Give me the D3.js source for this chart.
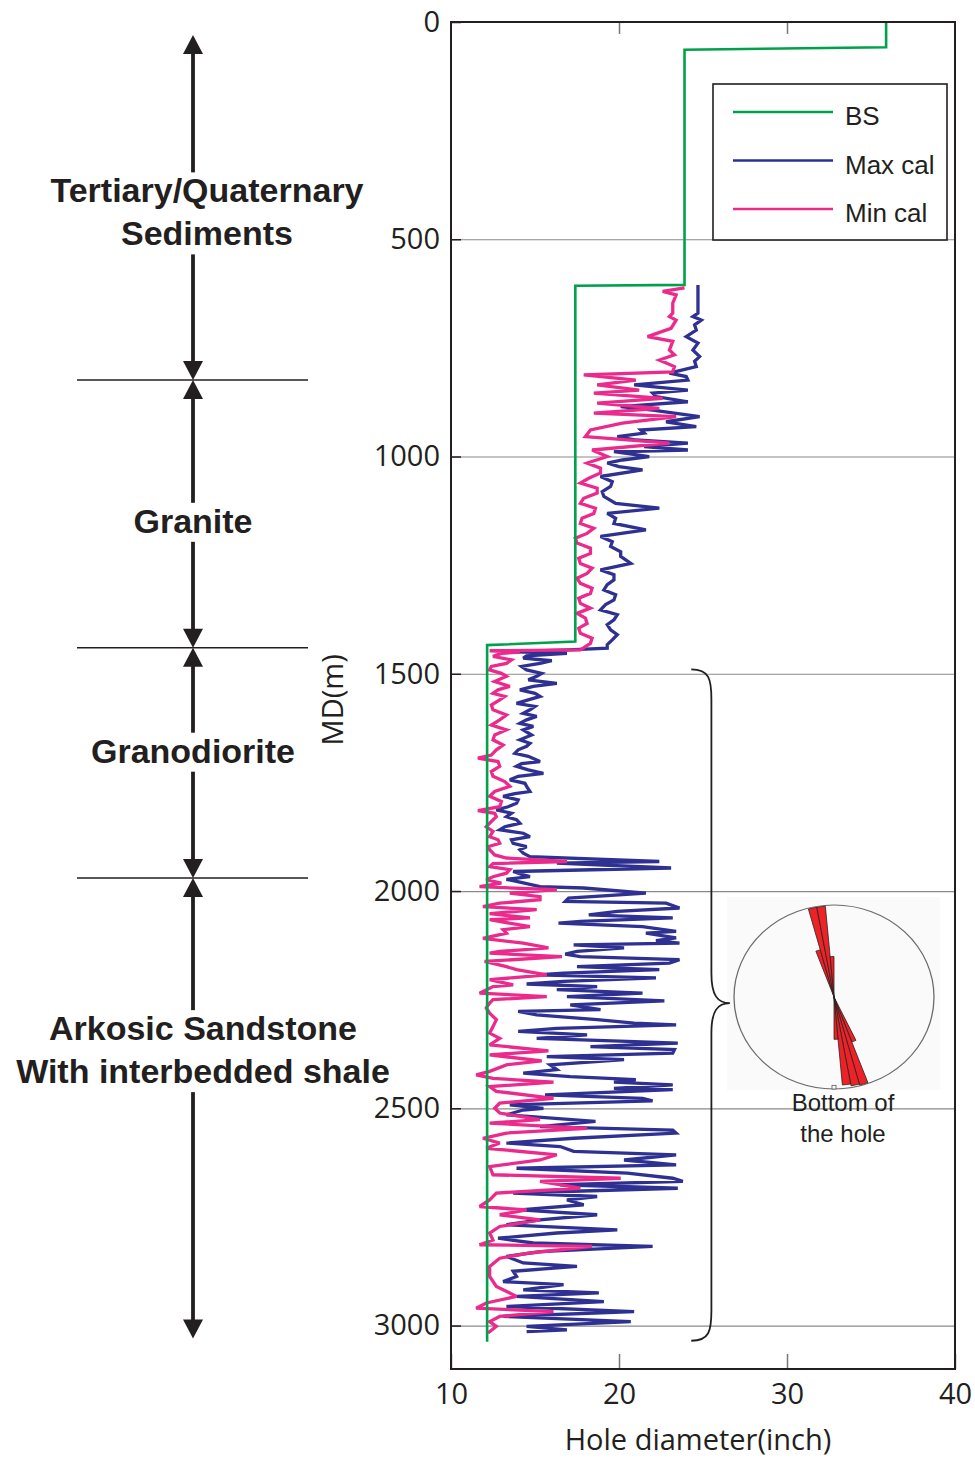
<!DOCTYPE html>
<html>
<head>
<meta charset="utf-8">
<script src="https://cdn.jsdelivr.net/npm/d3@7"></script>
<style>
  body { margin: 0; background: #fff; }
  svg { display: block; }
</style>
</head>
<body>
<script>
// ---- data ----

// bit size (BS), depth in m / diameter in inch
const bsDepth = [0, 58, 64, 605, 607, 1426, 1434, 3037];
const bsInch  = [35.9, 35.9, 23.9, 23.9, 17.4, 17.4, 12.15, 12.15];

// max caliper [depth m, inch], split by interval
const maxCalUpper = [[605,24.7],[670,24.7],[678,24.4],[686,24.9],[697,24.5],[709,24.6],[724,24.0],[739,24.7],[755,24.4],[770,24.8],[781,24.5],[793,24.6],[808,23.0],[816,24.0],[824,24.1],[835,20.9],[847,24.1],[854,22.0],[862,22.2],[874,24.1],[885,20.1],[893,22.0],[908,24.8],[920,22.8],[931,24.6],[939,21.3],[946,21.5],[954,19.9],[962,21.0],[969,24.1],[977,21.5],[985,24.1],[989,19.7],[1000,21.8],[1008,20.2],[1015,19.3],[1023,20.0],[1031,21.4],[1046,18.9],[1058,19.6],[1069,19.5],[1081,19.0],[1092,19.1],[1108,19.8],[1119,22.4],[1131,19.3],[1142,19.8],[1154,19.7],[1169,21.6],[1184,18.9],[1196,19.6],[1207,19.5],[1219,20.1],[1230,20.1],[1246,20.7],[1261,18.9],[1272,19.7],[1284,19.7],[1295,19.3],[1307,19.1],[1318,19.8],[1330,19.7],[1341,19.2],[1353,18.9],[1364,19.9],[1376,19.7],[1387,19.3],[1399,19.5],[1410,19.9],[1422,19.6],[1433,19.3],[1441,19.3]];
const maxCalMiddle = [[1445,17.0],[1449,13.3],[1453,16.9],[1459,14.5],[1464,14.3],[1470,16.0],[1476,15.3],[1483,14.2],[1491,14.5],[1499,15.4],[1506,15.1],[1514,14.6],[1522,16.3],[1529,14.9],[1537,14.1],[1545,15.0],[1552,15.3],[1560,14.6],[1568,13.9],[1575,15.0],[1583,14.7],[1591,14.3],[1598,15.1],[1606,14.5],[1614,14.1],[1621,14.9],[1629,14.3],[1641,14.8],[1652,14.1],[1660,14.7],[1667,14.5],[1675,14.0],[1683,13.8],[1690,14.6],[1702,15.3],[1707,14.2],[1713,13.9],[1721,14.6],[1729,15.5],[1736,14.0],[1744,13.5],[1752,14.4],[1759,14.5],[1771,14.7],[1776,13.8],[1782,13.1],[1790,14.0],[1798,13.9],[1806,13.4],[1813,12.7],[1821,13.6],[1829,13.3],[1836,13.9],[1844,14.1],[1852,13.2],[1859,12.9],[1867,14.3],[1875,14.7],[1882,13.6],[1890,13.7],[1898,14.5],[1905,14.1],[1913,14.3],[1921,14.7],[1932,22.4],[1936,16.3],[1947,23.1],[1955,13.7],[1963,14.3],[1967,14.7],[1973,13.3],[1978,13.9],[1990,15.3]];
const maxCalLower = [[1993,17.9],[2005,21.6],[2016,17.0],[2024,16.8],[2028,22.8],[2039,23.6],[2047,19.9],[2055,18.2],[2062,23.2],[2070,17.7],[2074,16.4],[2082,21.4],[2093,23.4],[2097,21.6],[2108,23.4],[2114,22.2],[2120,23.6],[2124,17.3],[2131,20.3],[2139,17.5],[2145,16.8],[2151,17.7],[2158,23.6],[2166,23.0],[2174,17.5],[2181,22.4],[2189,16.7],[2193,15.1],[2200,22.2],[2208,16.7],[2214,14.5],[2220,18.7],[2227,16.3],[2235,21.4],[2243,16.9],[2246,18.7],[2253,22.7],[2262,17.1],[2273,18.9],[2277,14.0],[2285,15.1],[2296,18.7],[2304,20.9],[2308,23.4],[2316,16.3],[2323,14.0],[2331,18.1],[2339,15.1],[2346,20.5],[2350,23.5],[2358,18.3],[2365,23.3],[2373,23.2],[2381,15.7],[2388,20.3],[2400,15.9],[2411,16.3],[2419,14.3],[2427,17.1],[2434,21.0],[2440,19.7],[2446,23.2],[2454,19.7],[2457,23.2],[2469,15.6],[2477,21.4],[2483,22.0],[2492,13.5],[2500,15.5],[2504,14.3],[2515,13.3],[2530,18.6],[2542,15.3],[2550,23.2],[2557,23.4],[2569,17.3],[2580,13.3],[2588,16.5],[2599,17.3],[2607,23.4],[2619,20.3],[2630,23.4],[2638,13.9],[2649,20.5],[2661,23.2],[2668,23.8],[2676,16.5],[2684,23.5],[2695,13.7],[2703,18.7],[2711,16.9],[2722,17.9],[2734,14.1],[2745,18.7],[2757,15.3],[2768,13.3],[2780,19.9],[2787,16.3],[2799,12.8],[2810,14.9],[2818,22.0],[2830,15.3],[2841,13.3],[2856,14.3],[2864,17.5],[2875,13.7],[2887,13.9],[2899,13.1],[2906,16.7],[2918,14.3],[2925,18.8],[2933,13.9],[2945,19.1],[2956,13.3],[2968,20.9],[2979,13.1],[2991,20.7],[3002,14.5],[3010,16.9],[3014,14.5]];

// min caliper [depth m, inch]
const minCalUpper = [[612,23.9],[620,22.6],[628,23.4],[647,23.2],[670,23.2],[678,23.0],[686,23.4],[705,23.1],[724,21.7],[735,23.2],[755,23.0],[766,23.3],[778,22.4],[793,23.3],[805,23.2],[812,17.9],[824,21.0],[835,18.7],[847,21.2],[854,18.5],[866,22.6],[877,18.7],[889,22.4],[900,18.5],[908,23.4],[923,20.2],[939,18.3],[954,18.0],[969,23.0],[985,18.4],[1000,19.3],[1015,18.1],[1027,18.9],[1038,18.9],[1050,18.2],[1061,17.7],[1073,18.7],[1084,18.7],[1096,17.9],[1108,17.7],[1119,18.6],[1131,18.5],[1142,17.8],[1154,17.7],[1165,18.5],[1177,18.1],[1188,17.4],[1199,17.5],[1211,18.3],[1223,18.3],[1234,17.6],[1246,17.7],[1257,18.4],[1269,18.1],[1280,17.5],[1292,17.7],[1303,18.4],[1315,18.3],[1326,17.6],[1338,17.7],[1349,18.3],[1361,17.5],[1372,18.0],[1384,18.1],[1395,17.6],[1407,17.7],[1418,18.4],[1430,18.3],[1445,17.7]];
const minCalMiddle = [[1447,12.3],[1450,14.1],[1453,13.0],[1460,12.5],[1468,13.6],[1476,13.3],[1483,12.4],[1491,12.3],[1499,13.0],[1506,13.3],[1518,12.6],[1529,13.5],[1537,12.8],[1545,12.5],[1552,13.2],[1560,12.9],[1572,12.4],[1583,12.5],[1595,13.3],[1606,12.9],[1618,12.4],[1629,13.3],[1641,12.6],[1652,12.5],[1664,13.1],[1675,12.7],[1687,12.4],[1694,11.6],[1702,12.8],[1713,12.9],[1725,12.4],[1736,12.5],[1748,13.2],[1759,13.5],[1771,12.6],[1782,12.3],[1794,13.0],[1806,12.9],[1815,11.6],[1821,12.6],[1829,12.7],[1840,12.4],[1852,12.1],[1863,12.5],[1875,12.3],[1882,12.8],[1890,12.9],[1898,12.2],[1905,12.3],[1917,12.6],[1924,13.3],[1932,16.9],[1937,12.5],[1944,12.3],[1951,13.5],[1959,13.3],[1967,12.5],[1974,12.1],[1982,13.0]];
const minCalLower = [[1990,11.7],[1997,16.3],[2005,13.5],[2013,15.3],[2020,15.3],[2028,12.9],[2036,11.9],[2043,15.1],[2052,12.3],[2062,14.7],[2066,12.3],[2082,14.7],[2089,13.1],[2097,13.3],[2109,11.9],[2120,14.3],[2131,15.8],[2139,12.9],[2143,12.3],[2151,16.6],[2162,12.0],[2174,13.3],[2181,13.9],[2193,15.7],[2204,12.3],[2216,13.7],[2220,12.5],[2235,11.7],[2243,15.7],[2250,12.5],[2258,12.3],[2269,12.1],[2281,12.3],[2296,12.7],[2312,12.5],[2327,12.3],[2339,12.9],[2354,12.3],[2368,15.8],[2377,12.3],[2391,15.4],[2400,13.3],[2415,12.3],[2423,11.5],[2431,12.5],[2440,16.1],[2450,12.3],[2461,12.7],[2477,16.1],[2488,12.9],[2500,12.6],[2511,12.9],[2526,15.3],[2534,12.3],[2546,18.1],[2557,13.3],[2569,11.9],[2580,12.9],[2592,12.1],[2607,16.3],[2619,15.3],[2634,12.3],[2653,12.5],[2661,20.1],[2668,15.3],[2684,17.7],[2695,12.7],[2711,12.3],[2726,11.7],[2734,14.5],[2745,12.9],[2757,15.3],[2772,12.9],[2787,12.3],[2803,12.5],[2814,11.7],[2818,18.4],[2833,14.7],[2845,12.9],[2864,12.3],[2887,12.3],[2910,12.7],[2933,13.9],[2948,12.1],[2960,11.5],[2968,16.1],[2979,12.9],[2991,12.3],[3002,12.7],[3017,12.2]];

// formations down the hole
const formationNames = [["Tertiary/Quaternary", "Sediments"], ["Granite"], ["Granodiorite"], ["Arkosic Sandstone", "With interbedded shale"]];
const formationTop   = [30, 824, 1440, 1970];
const formationBase  = [824, 1440, 1970, 3030];
const labelDepth     = [437, 1148, 1677, 2365];

// rose of breakout azimuths (deg, 5 deg bins) and relative length
const petalAzimuth = [340, 345, 350, 355, 155, 160, 165, 170, 175];
const petalLength  = [0.53, 0.99, 0.99, 0.44, 0.52, 0.99, 0.98, 0.96, 0.46];

const depthTicks = [0, 500, 1000, 1500, 2000, 2500, 3000];
const inchTicks = [10, 20, 30, 40];

const legendNames  = ["BS", "Max cal", "Min cal"];
const legendColors = ["#00a14b", "#2e3192", "#ec2a8c"];

// ---- chart ----
const W = 975, H = 1458;
const ink = "#231f20";

const x = d3.scaleLinear().domain([10, 40]).range([451, 955]);
const y = d3.scaleLinear().domain([0, 3100]).range([22, 1369]);

const svg = d3.select("body").append("svg")
    .attr("width", W)
    .attr("height", H);

// grid lines
svg.append("g")
    .attr("transform", `translate(${x(10)},0)`)
    .call(d3.axisLeft(y).tickValues(depthTicks.slice(1)).tickSize(-(x(40) - x(10))).tickFormat(""))
    .call(g => g.select(".domain").remove())
    .call(g => g.selectAll(".tick line").attr("stroke", "#8a8a8a").attr("stroke-width", 1.2));

// inset background for the rose
svg.append("rect")
    .attr("x", 727).attr("y", 897)
    .attr("width", 213).attr("height", 193)
    .attr("fill", "#fafafa");

// y axis with labels
svg.append("g")
    .attr("transform", `translate(${x(10)},0)`)
    .call(d3.axisLeft(y).tickValues(depthTicks).tickFormat(d3.format("d"))
        .tickSizeInner(-10).tickSizeOuter(0).tickPadding(11))
    .call(g => g.select(".domain").remove())
    .call(g => g.selectAll(".tick line").attr("stroke", ink).attr("stroke-width", 1.5))
    .call(g => g.selectAll(".tick text")
        .attr("fill", ink)
        .style("font", "29px 'Open Sans', sans-serif"));

// x axis
svg.append("g")
    .attr("transform", `translate(0,${y(3100)})`)
    .call(d3.axisBottom(x).tickValues(inchTicks).tickSizeInner(-15).tickSizeOuter(0).tickPadding(14))
    .call(g => g.select(".domain").remove())
    .call(g => g.selectAll(".tick line").attr("stroke", "#777").attr("stroke-width", 1.5))
    .call(g => g.selectAll(".tick text")
        .attr("fill", ink)
        .style("font", "29px 'Open Sans', sans-serif"));

svg.append("g")
    .attr("transform", `translate(0,${y(0)})`)
    .call(d3.axisTop(x).tickValues([20, 30]).tickSize(-12).tickFormat(""))
    .call(g => g.select(".domain").remove())
    .call(g => g.selectAll(".tick line").attr("stroke", "#777").attr("stroke-width", 1.5));

// curves
const line = d3.line().x(d => x(d[1])).y(d => y(d[0]));

const maxCal = maxCalUpper.concat(maxCalMiddle, maxCalLower);
const minCal = minCalUpper.concat(minCalMiddle, minCalLower);
const bs = bsDepth.map((d, i) => [d, bsInch[i]]);

svg.append("path").datum(maxCal)
    .attr("d", line)
    .attr("fill", "none")
    .attr("stroke", legendColors[1])
    .attr("stroke-width", 3.3)
    .attr("stroke-linejoin", "miter")
    .attr("stroke-miterlimit", 3);

svg.append("path").datum(minCal)
    .attr("d", line)
    .attr("fill", "none")
    .attr("stroke", legendColors[2])
    .attr("stroke-width", 3.3)
    .attr("stroke-linejoin", "miter")
    .attr("stroke-miterlimit", 3);

svg.append("path").datum(bs)
    .attr("d", line)
    .attr("fill", "none")
    .attr("stroke", legendColors[0])
    .attr("stroke-width", 2.6);

// frame
svg.append("rect")
    .attr("x", x(10)).attr("y", y(0))
    .attr("width", x(40) - x(10)).attr("height", y(3100) - y(0))
    .attr("fill", "none")
    .attr("stroke", ink)
    .attr("stroke-width", 2);

// axis titles
svg.append("text")
    .attr("transform", `translate(343,${y(1560)}) rotate(-90)`)
    .attr("text-anchor", "middle")
    .attr("fill", ink)
    .style("font", "29px 'Open Sans', sans-serif")
    .text("MD(m)");

svg.append("text")
    .attr("x", (x(10) + x(40)) / 2 - 5)
    .attr("y", 1450)
    .attr("text-anchor", "middle")
    .attr("fill", ink)
    .style("font", "29px 'Open Sans', sans-serif")
    .text("Hole diameter(inch)");

// legend
const legend = svg.append("g");
legend.append("rect")
    .attr("x", 713).attr("y", 84)
    .attr("width", 234).attr("height", 156)
    .attr("fill", "#fff")
    .attr("stroke", ink)
    .attr("stroke-width", 1.6);

legendNames.forEach((name, i) => {
    const ly = 112 + i * 48.5;
    legend.append("line")
        .attr("x1", 733).attr("x2", 833)
        .attr("y1", ly).attr("y2", ly)
        .attr("stroke", legendColors[i])
        .attr("stroke-width", 2.4);
    legend.append("text")
        .attr("x", 845).attr("y", ly + 13)
        .attr("fill", ink)
        .style("font", "26px 'Liberation Sans', Arial, sans-serif")
        .text(name);
});

// brace over the lower interval
const braceTop = y(1490), braceTip = y(2258), braceBot = y(3035);
const bx0 = x(24.3), bx = x(25.5), btip = x(26.6);
const brace = d3.path();
brace.moveTo(bx0, braceTop);
brace.bezierCurveTo(bx - 2, braceTop, bx, braceTop + 10, bx, braceTop + 30);
brace.lineTo(bx, braceTip - 30);
brace.bezierCurveTo(bx, braceTip - 8, bx + 6, braceTip, btip, braceTip);
brace.bezierCurveTo(bx + 6, braceTip, bx, braceTip + 8, bx, braceTip + 30);
brace.lineTo(bx, braceBot - 30);
brace.bezierCurveTo(bx, braceBot - 10, bx - 2, braceBot, bx0, braceBot);
svg.append("path")
    .attr("d", brace.toString())
    .attr("fill", "none")
    .attr("stroke", ink)
    .attr("stroke-width", 1.8);

// rose diagram
const rr = 100;
const rose = svg.append("g")
    .attr("transform", "translate(834,997) scale(1,0.92)");
rose.append("circle")
    .attr("r", rr)
    .attr("fill", "none")
    .attr("stroke", "#6b6b6b")
    .attr("stroke-width", 1.3);

const petal = d3.arc().innerRadius(0);
rose.selectAll("path.petal")
    .data(petalAzimuth.map((a, i) => ({ a, len: petalLength[i] })))
    .join("path")
    .attr("class", "petal")
    .attr("d", d => petal({
        outerRadius: rr * d.len,
        startAngle: d.a * Math.PI / 180,
        endAngle: (d.a + 5) * Math.PI / 180
    }))
    .attr("fill", "#ec2227")
    .attr("stroke", ink)
    .attr("stroke-width", 0.8);

rose.append("rect")
    .attr("x", -2).attr("y", rr - 4)
    .attr("width", 4).attr("height", 4)
    .attr("fill", "#fff")
    .attr("stroke", "#555")
    .attr("stroke-width", 0.8);

svg.append("text")
    .attr("x", 843).attr("y", 1111)
    .attr("text-anchor", "middle")
    .attr("fill", ink)
    .style("font", "24px 'Liberation Sans', Arial, sans-serif")
    .text("Bottom of");
svg.append("text")
    .attr("x", 843).attr("y", 1142)
    .attr("text-anchor", "middle")
    .attr("fill", ink)
    .style("font", "24px 'Liberation Sans', Arial, sans-serif")
    .text("the hole");

// formation column on the left
const ax = 193;
const labelX = [207, 193, 193, 203];
const lineStep = 43;

formationBase.slice(0, 3).forEach(d => {
    svg.append("line")
        .attr("x1", 77).attr("x2", 308)
        .attr("y1", y(d)).attr("y2", y(d))
        .attr("stroke", ink)
        .attr("stroke-width", 1.6);
});

function head(tipY, dir) {
    // dir -1 points up, +1 points down
    const b = tipY - dir * 19;
    return `M${ax},${tipY}L${ax - 10},${b}L${ax + 10},${b}Z`;
}

formationNames.forEach((lines, i) => {
    const cy = y(labelDepth[i]);
    const first = cy - (lines.length - 1) * lineStep / 2;
    const last = cy + (lines.length - 1) * lineStep / 2;
    const yt = y(formationTop[i]), yb = y(formationBase[i]);

    svg.append("line")
        .attr("x1", ax).attr("x2", ax)
        .attr("y1", yt + 15).attr("y2", first - 18)
        .attr("stroke", ink).attr("stroke-width", 3.8);
    svg.append("line")
        .attr("x1", ax).attr("x2", ax)
        .attr("y1", last + 21).attr("y2", yb - 15)
        .attr("stroke", ink).attr("stroke-width", 3.8);
    svg.append("path").attr("d", head(yt, -1)).attr("fill", ink);
    svg.append("path").attr("d", head(yb, 1)).attr("fill", ink);

    lines.forEach((t, j) => {
        svg.append("text")
            .attr("x", labelX[i])
            .attr("y", first + j * lineStep + 12)
            .attr("text-anchor", "middle")
            .attr("fill", ink)
            .style("font", "bold 34px 'Liberation Sans', Arial, sans-serif")
            .text(t);
    });
});
</script>
</body>
</html>
